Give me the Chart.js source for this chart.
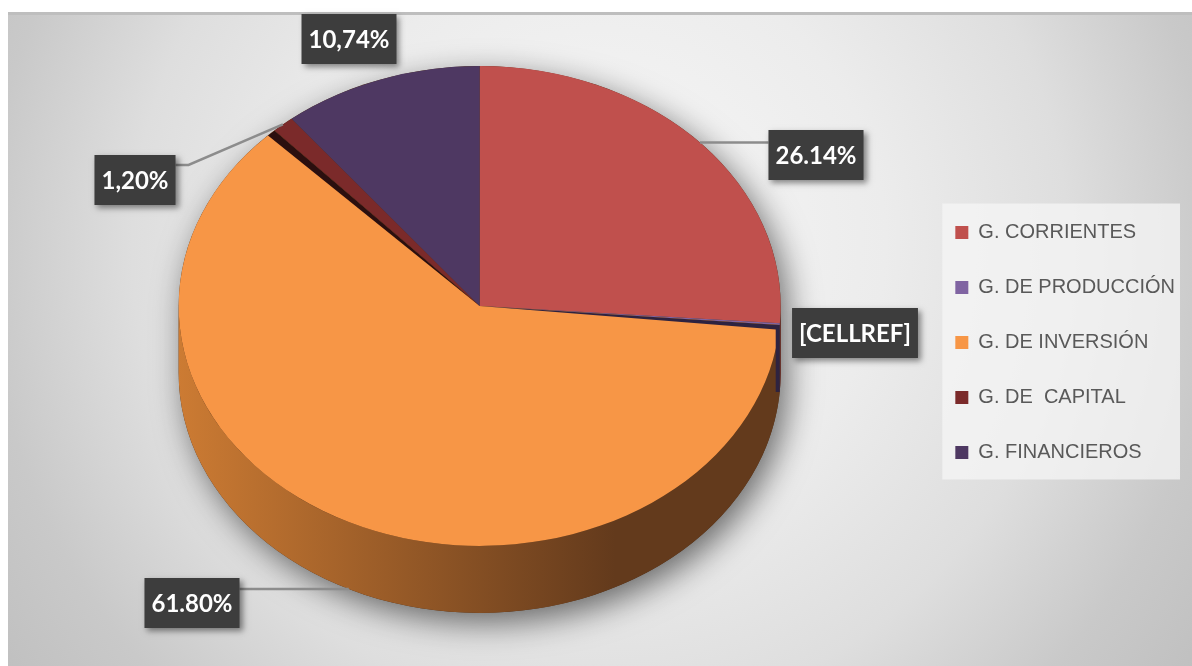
<!DOCTYPE html>
<html lang="es">
<head>
<meta charset="utf-8">
<title>Gastos</title>
<script src="https://cdn.jsdelivr.net/npm/chart.js@4.4.1/dist/chart.umd.min.js"></script>
<style>
  html, body { margin: 0; padding: 0; background: #fff; }
  canvas { display: block; }
</style>
</head>
<body>
<canvas id="graficoGastos" width="1192" height="666"></canvas>
<script>
const categorias = ['G. CORRIENTES', 'G. DE PRODUCCIÓN', 'G. DE INVERSIÓN', 'G. DE  CAPITAL', 'G. FINANCIEROS'];
const porcentajes = [26.14, 0.12, 61.80, 1.20, 10.74];
const etiquetas = ['26.14%', '[CELLREF]', '61.80%', '1,20%', '10,74%'];

const colores = ['#c0504d', '#8064a2', '#f79646', '#7b2a2a', '#4e3862'];
const coloresLado = [['#8e3735', '#6a2523'], ['#3a2c50', '#2a1f3a'], ['#cc7b33', '#633a1c'], ['#5a1e1e', '#3a1212'], ['#3b2a4c', '#2a1e37']];
// centro de cada caja de etiqueta
const posEtiquetas = [[816, 155], [855, 333], [192, 603], [135, 180], [349, 39]];

const inclinacion = 0.797;
const grosor = 67;
const sectorSeparado = 2;

const fondo = {
    id: 'fondo',
    beforeDraw(chart) {
        const {ctx, width, height} = chart;
        ctx.save();
        const g = ctx.createRadialGradient(600, 230, 30, 600, 260, 760);
        g.addColorStop(0, '#f6f6f6');
        g.addColorStop(0.35, '#ececec');
        g.addColorStop(0.6, '#dedede');
        g.addColorStop(0.8, '#c9c9c9');
        g.addColorStop(1, '#bdbdbd');
        ctx.fillStyle = g;
        ctx.fillRect(8, 12, width - 8, height - 12);
        ctx.fillStyle = '#bebebe';
        ctx.fillRect(8, 12, width - 8, 3);

        // fondo de la leyenda
        const cajas = chart.legend.legendHitBoxes;
        if (cajas && cajas.length) {
            const primero = cajas[0], ultimo = cajas[cajas.length - 1];
            const x0 = primero.left - 13;
            const y0 = primero.top + primero.height / 2 - 29;
            const y1 = ultimo.top + ultimo.height / 2 + 27;
            ctx.fillStyle = 'rgba(245,245,245,0.75)';
            ctx.fillRect(x0, y0, 1180 - x0, y1 - y0);
        }
        ctx.restore();
    }
};

const pastel3d = {
    id: 'pastel3d',
    beforeDatasetsDraw(chart) {
        const ctx = chart.ctx;
        const arcos = chart.getDatasetMeta(0).data;
        const {x: cx, y: cy, outerRadius: R} = arcos[0];
        const ry = R * inclinacion;

        // sombra del pastel
        ctx.save();
        ctx.shadowColor = 'rgba(0,0,0,0.55)';
        ctx.shadowBlur = 32;
        ctx.shadowOffsetX = 7;
        ctx.shadowOffsetY = 10;
        ctx.fillStyle = '#4a2c16';
        ctx.beginPath();
        ctx.ellipse(cx, cy, R, ry, 0, Math.PI, 2 * Math.PI);
        ctx.ellipse(cx, cy + grosor, R, ry, 0, 0, Math.PI);
        ctx.closePath();
        ctx.fill();
        ctx.restore();

        // paredes laterales
        arcos.forEach((arco, i) => {
            const a = Math.max(arco.startAngle, 0);
            const b = Math.min(arco.endAngle, Math.PI);
            if (b <= a) return;
            const g = ctx.createLinearGradient(cx - R, 0, cx + R * 0.45, 0);
            g.addColorStop(0, coloresLado[i][0]);
            g.addColorStop(1, coloresLado[i][1]);
            ctx.fillStyle = g;
            ctx.beginPath();
            ctx.ellipse(cx, cy, R, ry, 0, a, b);
            ctx.ellipse(cx, cy + grosor, R, ry, 0, b, a, true);
            ctx.closePath();
            ctx.fill();
        });

        ctx.save();
        ctx.translate(cx, cy);
        ctx.scale(1, inclinacion);
        ctx.translate(-cx, -cy);
    },
    afterDatasetsDraw(chart) {
        const ctx = chart.ctx;
        ctx.restore();

        const arcos = chart.getDatasetMeta(0).data;
        const {x: cx, y: cy, outerRadius: R} = arcos[0];
        const ry = R * inclinacion;
        const borde = t => [cx + R * Math.cos(t), cy + ry * Math.sin(t)];
        const sep = arcos[sectorSeparado];

        // caras de corte junto al sector separado
        const cortes = [
            {t: sep.startAngle, d: 6 / R, color: '#2e2340'},
            {t: sep.endAngle, d: -9 / R, color: '#2b0f0f'}
        ];
        ctx.save();
        cortes.forEach(c => {
            const p = borde(c.t), q = borde(c.t + c.d);
            ctx.fillStyle = c.color;
            ctx.beginPath();
            ctx.moveTo(cx, cy);
            ctx.lineTo(p[0], p[1]);
            ctx.lineTo(q[0], q[1]);
            ctx.closePath();
            ctx.fill();
            if (Math.sin(c.t) > 0) {
                ctx.fillRect(p[0] - 4, p[1], 4, grosor);
            }
        });
        ctx.restore();
    }
};

const etiquetasDatos = {
    id: 'etiquetasDatos',
    afterDraw(chart) {
        const ctx = chart.ctx;
        const arcos = chart.getDatasetMeta(0).data;
        const {x: cx, y: cy, outerRadius: R} = arcos[0];
        const ry = R * inclinacion;
        ctx.save();
        ctx.font = 'bold 24px Lato';
        arcos.forEach((arco, i) => {
            const medio = (arco.startAngle + arco.endAngle) / 2;
            const ax = cx + R * Math.cos(medio);
            let ay = cy + ry * Math.sin(medio);
            if (Math.sin(medio) > 0.5) ay += grosor;
            const [bx, by] = posEtiquetas[i];
            const w = ctx.measureText(etiquetas[i]).width + 14, h = 50;
            const izq = bx - w / 2, der = bx + w / 2, arr = by - h / 2, aba = by + h / 2;

            const cerca = ax >= izq - 20 && ax <= der + 20 && ay >= arr - 20 && ay <= aba + 20;
            if (!cerca) {
                const lado = ax < izq ? izq : der;
                const yUnion = Math.min(Math.max(ay, arr + 10), aba - 10);
                const codo = lado + (ax < izq ? -13 : 13);
                ctx.strokeStyle = '#8c8c8c';
                ctx.lineWidth = 2.5;
                ctx.beginPath();
                ctx.moveTo(lado, yUnion);
                if (yUnion !== ay) ctx.lineTo(codo, yUnion);
                ctx.lineTo(ax, ay);
                ctx.stroke();
            }

            ctx.save();
            ctx.shadowColor = 'rgba(0,0,0,0.45)';
            ctx.shadowBlur = 6;
            ctx.shadowOffsetX = 3;
            ctx.shadowOffsetY = 3;
            ctx.fillStyle = '#3d3d3d';
            ctx.fillRect(izq, arr, w, h);
            ctx.restore();

            ctx.fillStyle = '#ffffff';
            ctx.textAlign = 'center';
            ctx.textBaseline = 'middle';
            ctx.fillText(etiquetas[i], bx, by + 1);
        });
        ctx.restore();
    }
};

new Chart(document.getElementById('graficoGastos'), {
    type: 'pie',
    data: {
        labels: categorias,
        datasets: [{
            data: porcentajes,
            backgroundColor: colores,
            borderWidth: 0,
            hoverOffset: 0,
            clip: false
        }]
    },
    options: {
        responsive: false,
        animation: false,
        devicePixelRatio: 1,
        radius: 301,
        layout: {
            padding: {left: 39, right: 7, top: 5, bottom: 59}
        },
        plugins: {
            legend: {
                position: 'right',
                title: {
                    display: true,
                    text: '',
                    font: {size: 10, lineHeight: 1},
                    padding: {top: 0, bottom: 63}
                },
                labels: {
                    boxWidth: 13,
                    boxHeight: 13,
                    padding: 35,
                    color: '#595959',
                    font: {family: "'Liberation Sans', Arial, sans-serif", size: 20}
                }
            },
            tooltip: {enabled: false}
        }
    },
    plugins: [fondo, pastel3d, etiquetasDatos]
});
</script>
</body>
</html>
